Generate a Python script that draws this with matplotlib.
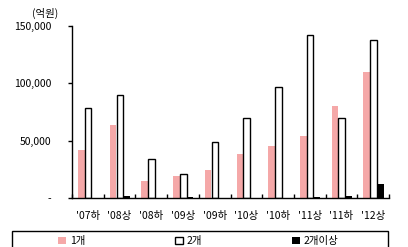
import numpy as np
import matplotlib.pyplot as plt
from matplotlib.ticker import FuncFormatter
from matplotlib.patches import Rectangle

plt.rcParams['font.family'] = ['Noto Sans CJK KR', 'DejaVu Sans']

periods = ["'07하", "'08상", "'08하", "'09상", "'09하", "'10상", "'10하", "'11상", "'11하", "'12상"]
one = [42000, 64000, 14500, 19500, 24500, 38000, 45000, 54500, 80000, 110000]
two = [78500, 90000, 34000, 20500, 49000, 69500, 97000, 142000, 70000, 138000]
more = [0, 1800, 0, 900, 0, 0, 0, 900, 1500, 12500]
labels = ['1개', '2개', '2개이상']

fig = plt.figure(figsize=(4.08, 2.47), dpi=100)
ax = fig.add_axes([72/408, 1-198/247, 317/408, 172/247])

x = np.arange(len(periods))
w = 0.21
ax.bar(x - 0.205, one, w, color='#F5A8A8', label=labels[0])
ax.bar(x + 0.01, two, w, color='white', edgecolor='black', linewidth=1, label=labels[1])
ax.bar(x + 0.225, more, w, color='black', label=labels[2])

ax.set_xlim(-0.5, len(periods) - 0.5)
ax.set_ylim(0, 150000)
ax.set_yticks([0, 50000, 100000, 150000])
ax.yaxis.set_major_formatter(FuncFormatter(lambda v, p: '-' if v == 0 else f'{int(v):,}'))
ax.tick_params(axis='y', direction='out', length=3, width=1, labelsize=7.5, pad=12)

ax.set_xticks(x)
ax.set_xticklabels(periods)
ax.tick_params(axis='x', length=0, labelsize=7.5, pad=9)
ax.set_xticks(np.arange(-0.5, len(periods)), minor=True)
ax.tick_params(axis='x', which='minor', direction='in', length=3, width=1)

for s in ['top', 'right']:
    ax.spines[s].set_visible(False)
for s in ['left', 'bottom']:
    ax.spines[s].set_linewidth(1)

fig.text(58/408, 1-13/247, '(억원)', ha='right', va='center', fontsize=7.5)

# legend box
fig.patches.append(Rectangle((12/408, -10/247), 376/408, 26/247, transform=fig.transFigure,
                             fill=False, edgecolor='black', linewidth=1))
leg = fig.legend(loc='center left', bbox_to_anchor=(58/408, 6/247), ncol=3, fontsize=7.5,
                 frameon=False, handlelength=0.75, handleheight=0.75,
                 handletextpad=0.4, columnspacing=8.6, borderpad=0, borderaxespad=0)

fig.savefig('out.png', dpi=100)
